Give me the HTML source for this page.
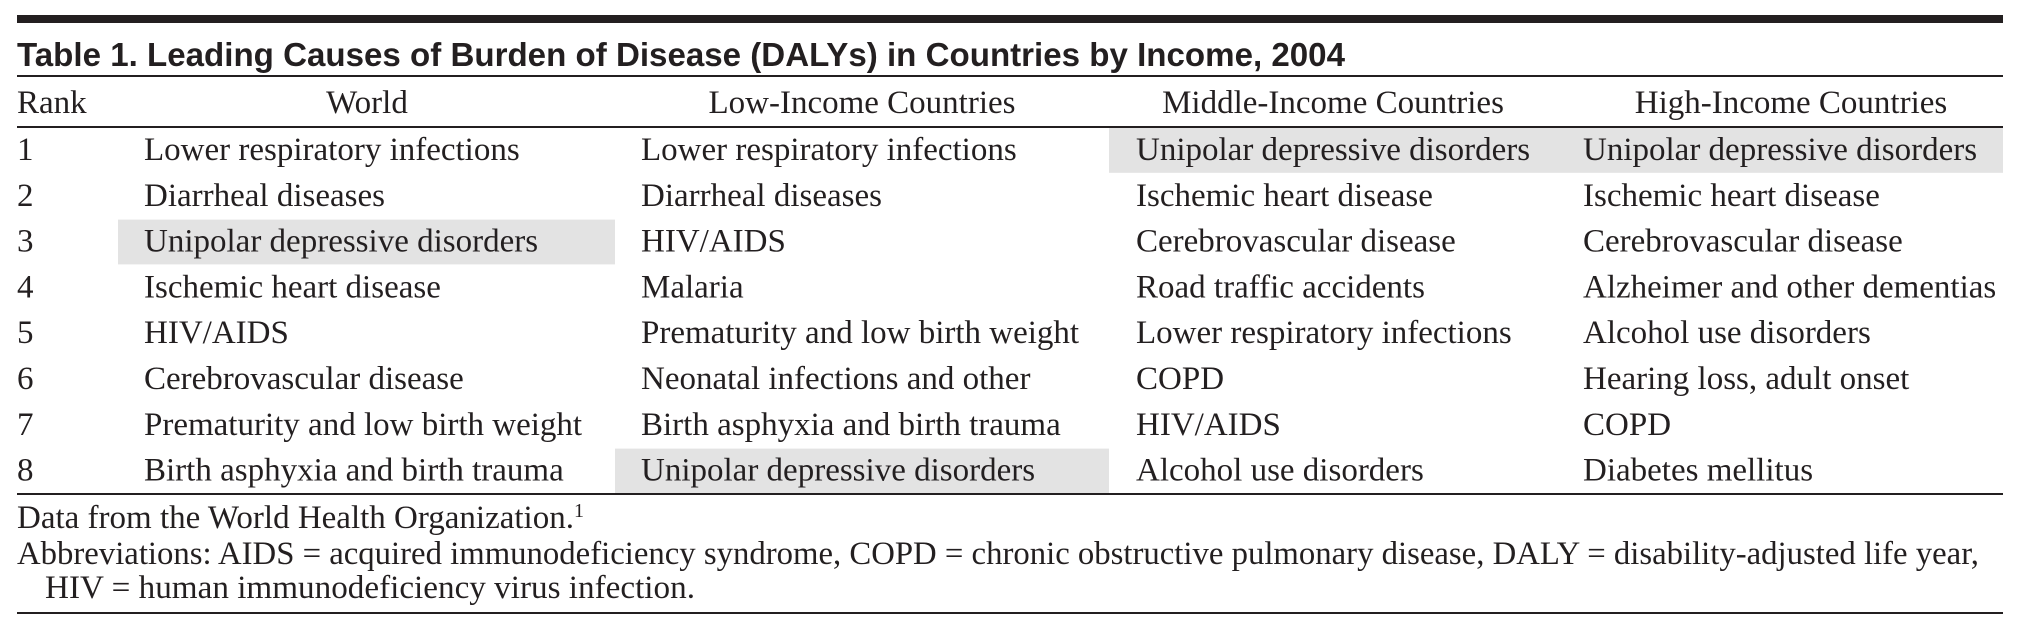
<!DOCTYPE html>
<html><head><meta charset="utf-8"><style>
html,body{margin:0;padding:0;background:#fff;width:2018px;height:628px;overflow:hidden}
svg{display:block}
.s{font-family:"Liberation Serif",serif;font-size:33px;fill:#231f20}
.t{font-family:"Liberation Sans",sans-serif;font-size:33px;font-weight:bold;fill:#231f20}
</style></head><body>
<svg id="tbl" width="2018" height="628" viewBox="0 0 2018 628" xmlns="http://www.w3.org/2000/svg">
<rect x="17" y="15" width="1986" height="8" fill="#231f20"/>
<text class="t" x="17" y="66" textLength="1328" lengthAdjust="spacingAndGlyphs">Table 1. Leading Causes of Burden of Disease (DALYs) in Countries by Income, 2004</text>
<rect x="17" y="75" width="1986" height="2" fill="#231f20"/>
<g id="shade"></g>
<text class="s" x="17" y="113">Rank</text>
<g id="hdr"></g>
<rect x="17" y="126" width="1986" height="2" fill="#231f20"/>
<g id="rows"></g>
<rect x="17" y="493" width="1986" height="2" fill="#231f20"/>
<text class="s" x="17" y="528">Data from the World Health Organization.<tspan font-size="20" dy="-11">1</tspan></text>
<text class="s" x="17" y="564" textLength="1962" lengthAdjust="spacingAndGlyphs">Abbreviations: AIDS = acquired immunodeficiency syndrome, COPD = chronic obstructive pulmonary disease, DALY = disability-adjusted life year,</text>
<text class="s" x="45" y="598" textLength="650" lengthAdjust="spacingAndGlyphs">HIV = human immunodeficiency virus infection.</text>
<rect x="17" y="612" width="1986" height="2" fill="#231f20"/>
</svg>
<script>
const headers = ["World","Low-Income Countries","Middle-Income Countries","High-Income Countries"];
const world = ["Lower respiratory infections","Diarrheal diseases","Unipolar depressive disorders","Ischemic heart disease","HIV/AIDS","Cerebrovascular disease","Prematurity and low birth weight","Birth asphyxia and birth trauma"];
const low = ["Lower respiratory infections","Diarrheal diseases","HIV/AIDS","Malaria","Prematurity and low birth weight","Neonatal infections and other","Birth asphyxia and birth trauma","Unipolar depressive disorders"];
const middle = ["Unipolar depressive disorders","Ischemic heart disease","Cerebrovascular disease","Road traffic accidents","Lower respiratory infections","COPD","HIV/AIDS","Alcohol use disorders"];
const high = ["Unipolar depressive disorders","Ischemic heart disease","Cerebrovascular disease","Alzheimer and other dementias","Alcohol use disorders","Hearing loss, adult onset","COPD","Diabetes mellitus"];
const highlightText = "Unipolar depressive disorders";

const NS="http://www.w3.org/2000/svg";
const cols=[world,low,middle,high];
const colX=[144,641,1136,1583];
const colCenter=[367,862,1333,1791];
const shadeL=[118,615,1109,1557];
const shadeR=[615,1109,1557,2003];
const rowTop=128, pitch=45.8;
const hdr=document.getElementById('hdr');
headers.forEach((h,i)=>{
  const t=document.createElementNS(NS,'text');
  t.setAttribute('class','s');t.setAttribute('x',colCenter[i]);t.setAttribute('y',113);t.setAttribute('text-anchor','middle');
  
  
  t.textContent=h;hdr.appendChild(t);
});
const rows=document.getElementById('rows'), shade=document.getElementById('shade');
for(let r=0;r<world.length;r++){
  const y=rowTop+pitch*r;
  const rk=document.createElementNS(NS,'text');
  rk.setAttribute('class','s');rk.setAttribute('x',17);rk.setAttribute('y',y+32);
  
  
  rk.textContent=String(r+1);rows.appendChild(rk);
  cols.forEach((c,i)=>{
    if(c[r]===highlightText){
      const b=document.createElementNS(NS,'rect');
      b.setAttribute('x',shadeL[i]);b.setAttribute('y',y);b.setAttribute('width',shadeR[i]-shadeL[i]);b.setAttribute('height',pitch-1);b.setAttribute('fill','#e3e3e3');
      
      
      shade.appendChild(b);
    }
    const t=document.createElementNS(NS,'text');
    t.setAttribute('class','s');t.setAttribute('x',colX[i]);t.setAttribute('y',y+32);
    
    
    t.textContent=c[r];rows.appendChild(t);
  });
}
</script>
</body></html>
